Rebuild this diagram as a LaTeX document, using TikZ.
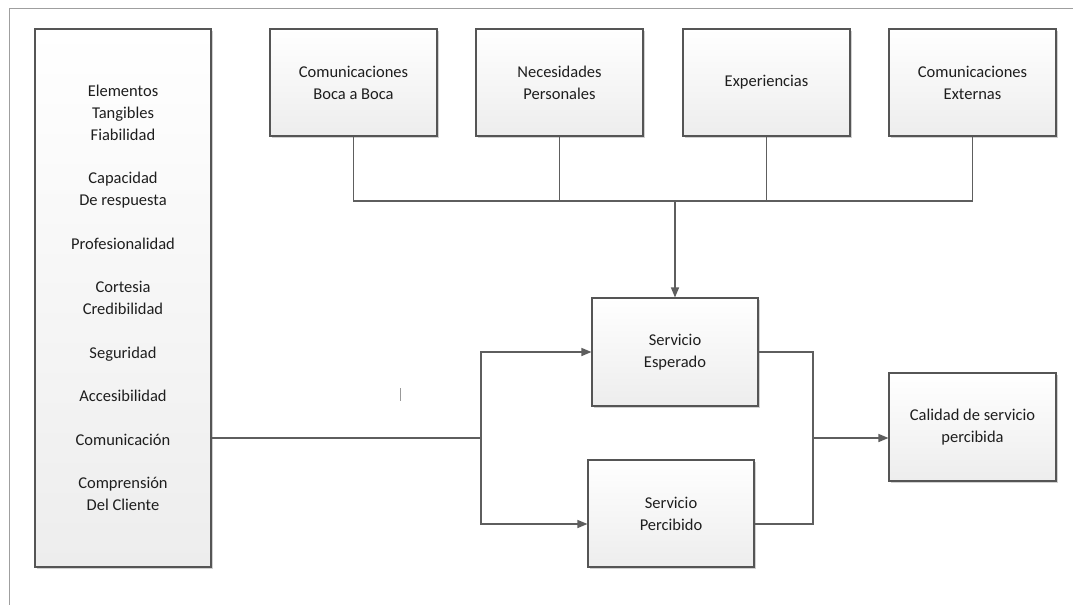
\documentclass[tikz,border=0pt]{standalone}
\usepackage{fontspec}
\setmainfont{Carlito}
\usetikzlibrary{arrows.meta,shadows}
\definecolor{edge}{HTML}{555555}
\definecolor{wire}{HTML}{5E5E5E}
\definecolor{boxlow}{HTML}{EDEDED}
\definecolor{ink}{HTML}{1E1E1E}
\begin{document}
\begin{tikzpicture}[x=1pt,y=-1pt,
  card/.style={draw=edge, line width=1.1pt, top color=white, bottom color=boxlow,
    drop shadow={shadow xshift=1.6pt, shadow yshift=-1.6pt, fill=black, opacity=0.18},
    align=center, text=ink, inner sep=0pt,
    font=\fontsize{16.5}{21.8}\selectfont},
  wirel/.style={draw=wire, line width=1.3pt},
  arr/.style={wirel, -{Triangle[length=10pt,width=8pt]}}]
\useasboundingbox (0,0) rectangle (1073,605);
\fill[white] (0,0) rectangle (1073,605);
% page corner
\draw[draw=gray!75, line width=1pt] (1073,8) -- (9,8) -- (9,605);

% attribute column
\node[card, minimum width=176pt, minimum height=538pt] (L) at (123,298)
  {Elementos\\Tangibles\\Fiabilidad\\[21.8pt]Capacidad\\De respuesta\\[21.8pt]Profesionalidad\\[21.8pt]Cortesia\\Credibilidad\\[21.8pt]Seguridad\\[21.8pt]Accesibilidad\\[21.8pt]Comunicación\\[21.8pt]Comprensión\\Del Cliente};

% expectation sources
\node[card, minimum width=167pt, minimum height=107pt] (B1) at (353.5,82.5) {Comunicaciones\\Boca a Boca};
\node[card, minimum width=167pt, minimum height=107pt] (B2) at (559.5,82.5) {Necesidades\\Personales};
\node[card, minimum width=167pt, minimum height=107pt] (B3) at (766.5,82.5) {Experiencias};
\node[card, minimum width=167pt, minimum height=107pt] (B4) at (972.5,82.5) {Comunicaciones\\Externas};

% service boxes
\node[card, minimum width=166pt, minimum height=108pt] (SE) at (675,352) {Servicio\\Esperado};
\node[card, minimum width=166pt, minimum height=107pt] (SP) at (671,513.5) {Servicio\\Percibido};
\node[card, minimum width=167pt, minimum height=108pt] (C) at (972.5,427) {Calidad de servicio\\percibida};

% routing points
\coordinate (bus) at (0,201);
\coordinate (split) at (481,438);
\coordinate (merge) at (813,438);
\coordinate (lowrow) at (0,524);

% bus collecting the four sources
\draw[wirel] (B1.south) -- (B1.south |- bus) -- (B4.south |- bus) -- (B4.south);
\draw[wirel] (B2.south) -- (B2.south |- bus);
\draw[wirel] (B3.south) -- (B3.south |- bus);
\draw[arr] (SE.north |- bus) -- (SE.north);

% from the attributes to both services
\draw[wirel] (L.east |- split) -- (split);
\draw[arr] (split) |- (SE.west);
\draw[arr] (split) |- (SP.west |- lowrow);

% both services into perceived quality
\draw[wirel] (SE.east) -| (merge);
\draw[wirel] (SP.east |- lowrow) -| (merge);
\draw[arr] (merge) -- (C.west |- merge);

% small mark
\draw[draw=gray!80, line width=1pt] (400,388) -- (400,401);
\end{tikzpicture}
\end{document}
